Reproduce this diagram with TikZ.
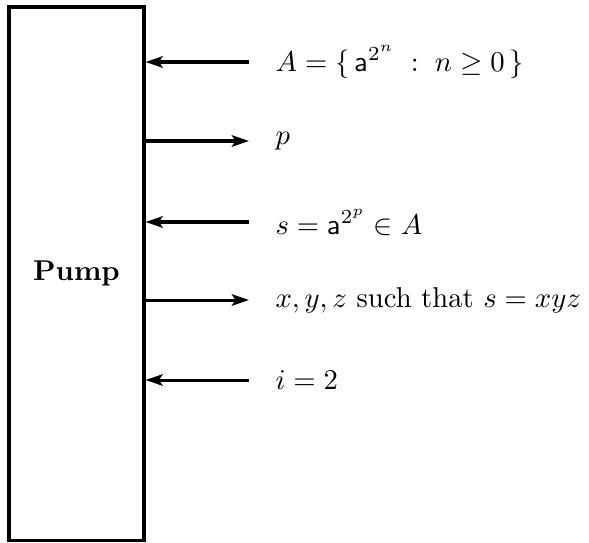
\documentclass[tikz,border=0pt]{standalone}
\usetikzlibrary{arrows.meta}
\begin{document}
\begin{tikzpicture}[x=0.349pt,y=-0.349pt,
  conn/.style={line width=1.05pt},
  lab/.style={anchor=west,inner sep=0pt,font=\normalsize},
  >={Stealth[length=6pt,width=4pt,inset=1.3pt]}]
\useasboundingbox (0,0) rectangle (589,542);
\node[draw,line width=1.05pt,minimum width=135*0.349pt,minimum height=533*0.349pt,inner sep=0pt] (pump) at (76.5,273.5) {\textbf{Pump}};
% labels
\node[lab] (l1) at (275,62) {$A = \{\, \mathsf{a}^{2^n} \;:\; n \geq 0 \,\}$};
\node[lab] (l2) at (275,141) {$p$};
\node[lab] (l3) at (275,222) {$s = \mathsf{a}^{2^p} \in A$};
\node[lab] (l4) at (275,300) {$x, y, z$ such that $s = xyz$};
\node[lab] (l5) at (275,380) {$i = 2$};
% arrow outer ends
\coordinate (e1) at (249,62);
\coordinate (e2) at (249,141);
\coordinate (e3) at (249,222);
\coordinate (e4) at (249,300);
\coordinate (e5) at (249,380);
\draw[conn,->] (e1) -- (pump.east |- e1);
\draw[conn,->] (pump.east |- e2) -- (e2);
\draw[conn,->] (e3) -- (pump.east |- e3);
\draw[conn,->] (pump.east |- e4) -- (e4);
\draw[conn,->] (e5) -- (pump.east |- e5);
\end{tikzpicture}
\end{document}
